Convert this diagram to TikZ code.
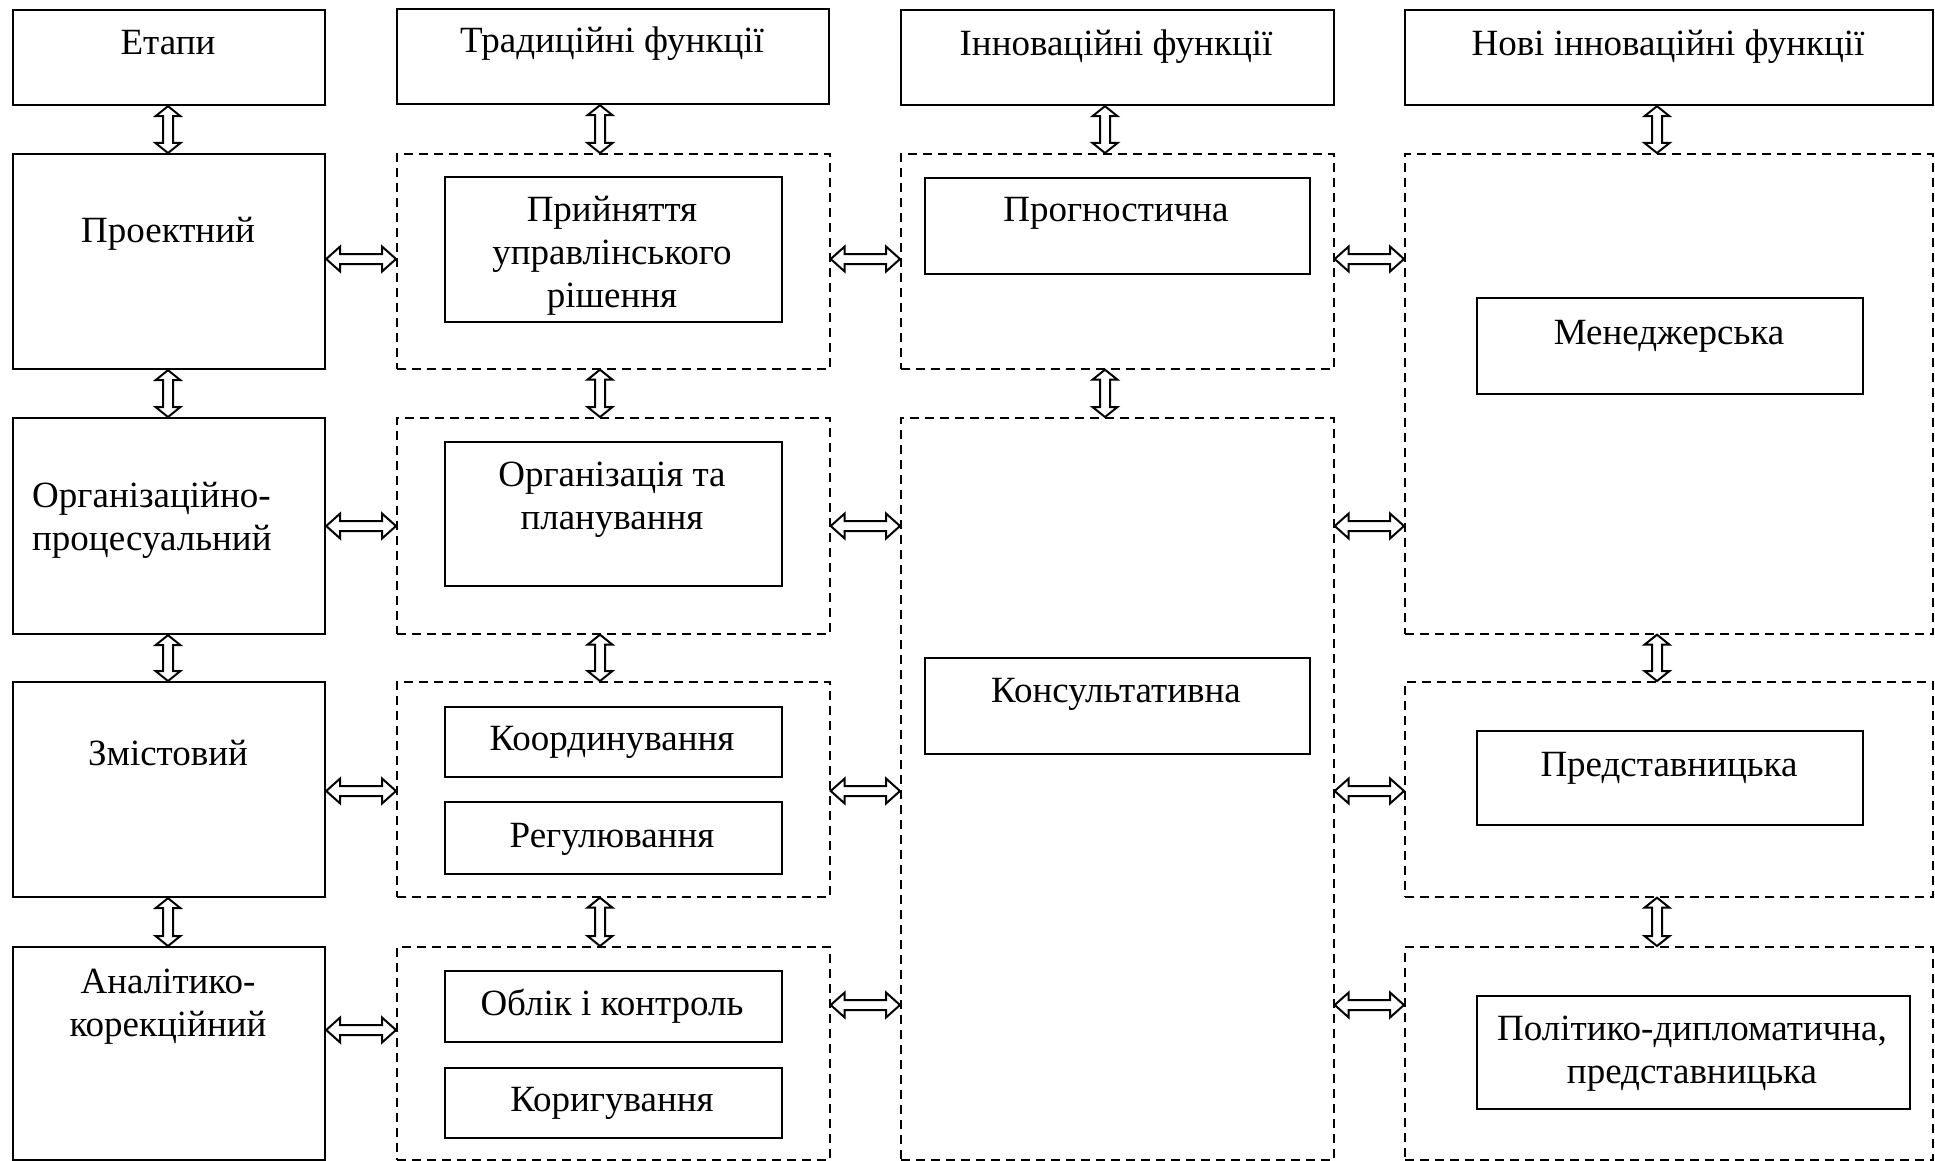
\documentclass[tikz,border=0pt]{standalone}
\usepackage{fontspec}
\setmainfont{Liberation Serif}
\usetikzlibrary{calc}

\tikzset{
  headbox/.style={draw, line width=2.2pt, anchor=north west, inner sep=0pt, minimum height=95pt},
  stagebox/.style={draw, line width=2.2pt, anchor=north west, inner sep=0pt, minimum width=312pt},
  funcbox/.style={draw, line width=2.2pt, anchor=north west, inner sep=0pt},
  groupbox/.style={draw, line width=1.7pt, dash pattern=on 9pt off 6pt, anchor=north west, inner sep=0pt},
  txt/.style={anchor=base, align=center, inner sep=0pt},
  dblarrow/.style={line width=2pt, line join=miter,
    to path={let \p1=(\tikztostart), \p2=(\tikztotarget) in
      -- ($(\p1)!#1!(\p2)!12.5pt!90:(\p2)$)
      -- ($(\p1)!#1!(\p2)!5pt!90:(\p2)$)
      -- ($(\p2)!#1!(\p1)!5pt!-90:(\p1)$)
      -- ($(\p2)!#1!(\p1)!12.5pt!-90:(\p1)$)
      -- (\p2)
      -- ($(\p2)!#1!(\p1)!12.5pt!90:(\p1)$)
      -- ($(\p2)!#1!(\p1)!5pt!90:(\p1)$)
      -- ($(\p1)!#1!(\p2)!5pt!-90:(\p2)$)
      -- ($(\p1)!#1!(\p2)!12.5pt!-90:(\p2)$)
      -- cycle}},
  dblarrow/.default=14pt
}

\begin{document}
\begin{tikzpicture}[x=1pt, y=-1pt, every node/.style={font=\fontsize{37}{43}\selectfont}]
  \useasboundingbox (0,0) rectangle (1935,1161);

  % header row
  \node[headbox, minimum width=312pt] (h1) at (12,9) {};
  \node[headbox, minimum width=432pt] (h2) at (396,8) {};
  \node[headbox, minimum width=433pt] (h3) at (900,9) {};
  \node[headbox, minimum width=528pt] (h4) at (1404,9) {};
  \node[txt] (h1t) at (168,55) {Етапи};
  \node[txt] (h2t) at (612,53) {Традиційні функції};
  \node[txt] (h3t) at (1116,56) {Інноваційні функції};
  \node[txt] (h4t) at (1668,56) {Нові інноваційні функції};

  % stages
  \node[stagebox, minimum height=215pt] (s1) at (12,153) {};
  \node[stagebox, minimum height=216pt] (s2) at (12,417) {};
  \node[stagebox, minimum height=215pt] (s3) at (12,681) {};
  \node[stagebox, minimum height=213pt] (s4) at (12,946) {};
  \node[txt] (s1t) at (168,243) {Проектний};
  \node[txt, anchor=base west, align=left] (s2t) at (32,550) {Організаційно-\\процесуальний};
  \node[txt] (s3t) at (168,765) {Змістовий};
  \node[txt] (s4t) at (168,1036) {Аналітико-\\корекційний};

  % traditional functions
  \node[groupbox, minimum width=433pt, minimum height=215pt] (d1) at (396,153) {};
  \node[groupbox, minimum width=433pt, minimum height=216pt] (d2) at (396,417) {};
  \node[groupbox, minimum width=433pt, minimum height=215pt] (d3) at (396,681) {};
  \node[groupbox, minimum width=433pt, minimum height=213pt] (d4) at (396,946) {};
  \node[funcbox, minimum width=337pt, minimum height=145pt] (f1) at (444,176) {};
  \node[funcbox, minimum width=337pt, minimum height=144pt] (f2) at (444,441) {};
  \node[funcbox, minimum width=337pt, minimum height=70pt] (f3) at (444,706) {};
  \node[funcbox, minimum width=337pt, minimum height=72pt] (f4) at (444,801) {};
  \node[funcbox, minimum width=337pt, minimum height=71pt] (f5) at (444,970) {};
  \node[funcbox, minimum width=337pt, minimum height=70pt] (f6) at (444,1067) {};
  \node[txt] (f1t) at (612,307) {Прийняття\\управлінського\\рішення};
  \node[txt] (f2t) at (612,529) {Організація та\\планування};
  \node[txt] (f3t) at (612,750) {Координування};
  \node[txt] (f4t) at (612,847) {Регулювання};
  \node[txt] (f5t) at (612,1015) {Облік і контроль};
  \node[txt] (f6t) at (612,1111) {Коригування};

  % innovative functions
  \node[groupbox, minimum width=433pt, minimum height=215pt] (c1) at (900,153) {};
  \node[groupbox, minimum width=433pt, minimum height=742pt] (c2) at (900,417) {};
  \node[funcbox, minimum width=385pt, minimum height=96pt] (g1) at (924,177) {};
  \node[funcbox, minimum width=385pt, minimum height=96pt] (g2) at (924,657) {};
  \node[txt] (g1t) at (1116,222) {Прогностична};
  \node[txt] (g2t) at (1116,702) {Консультативна};

  % new innovative functions
  \node[groupbox, minimum width=528pt, minimum height=480pt] (n1) at (1404,153) {};
  \node[groupbox, minimum width=528pt, minimum height=215pt] (n2) at (1404,681) {};
  \node[groupbox, minimum width=528pt, minimum height=213pt] (n3) at (1404,946) {};
  \node[funcbox, minimum width=386pt, minimum height=96pt] (m1) at (1476,297) {};
  \node[funcbox, minimum width=386pt, minimum height=94pt] (m2) at (1476,730) {};
  \node[funcbox, minimum width=433pt, minimum height=113pt] (m3) at (1476,995) {};
  \node[txt] (m1t) at (1669,344) {Менеджерська};
  \node[txt] (m2t) at (1669,776) {Представницька};
  \node[txt] (m3t) at (1692,1083) {Політико-дипломатична,\\представницька};

  % levels of the arrows
  \coordinate (r1) at (0,259);
  \coordinate (r2) at (0,526);
  \coordinate (r3) at (0,791);
  \coordinate (r4) at (0,1030);
  \coordinate (r5) at (0,1005);
  \coordinate (v1) at (168,0);
  \coordinate (v2) at (600,0);
  \coordinate (v3) at (1105,0);
  \coordinate (v4) at (1657,0);

  % vertical arrows
  \draw[dblarrow=10pt] (v1 |- h1.south) to (v1 |- s1.north);
  \draw[dblarrow=10pt] (v1 |- s1.south) to (v1 |- s2.north);
  \draw[dblarrow=10pt] (v1 |- s2.south) to (v1 |- s3.north);
  \draw[dblarrow=10pt] (v1 |- s3.south) to (v1 |- s4.north);
  \draw[dblarrow=10pt] (v2 |- h2.south) to (v2 |- d1.north);
  \draw[dblarrow=10pt] (v2 |- d1.south) to (v2 |- d2.north);
  \draw[dblarrow=10pt] (v2 |- d2.south) to (v2 |- d3.north);
  \draw[dblarrow=10pt] (v2 |- d3.south) to (v2 |- d4.north);
  \draw[dblarrow=10pt] (v3 |- h3.south) to (v3 |- c1.north);
  \draw[dblarrow=10pt] (v3 |- c1.south) to (v3 |- c2.north);
  \draw[dblarrow=10pt] (v4 |- h4.south) to (v4 |- n1.north);
  \draw[dblarrow=10pt] (v4 |- n1.south) to (v4 |- n2.north);
  \draw[dblarrow=10pt] (v4 |- n2.south) to (v4 |- n3.north);

  % horizontal arrows
  \draw[dblarrow] (r1 -| s1.east) to (r1 -| d1.west);
  \draw[dblarrow] (r2 -| s2.east) to (r2 -| d2.west);
  \draw[dblarrow] (r3 -| s3.east) to (r3 -| d3.west);
  \draw[dblarrow] (r4 -| s4.east) to (r4 -| d4.west);
  \draw[dblarrow] (r1 -| d1.east) to (r1 -| c1.west);
  \draw[dblarrow] (r2 -| d2.east) to (r2 -| c2.west);
  \draw[dblarrow] (r3 -| d3.east) to (r3 -| c2.west);
  \draw[dblarrow] (r5 -| d4.east) to (r5 -| c2.west);
  \draw[dblarrow] (r1 -| c1.east) to (r1 -| n1.west);
  \draw[dblarrow] (r2 -| c2.east) to (r2 -| n1.west);
  \draw[dblarrow] (r3 -| c2.east) to (r3 -| n2.west);
  \draw[dblarrow] (r5 -| c2.east) to (r5 -| n3.west);
\end{tikzpicture}
\end{document}
